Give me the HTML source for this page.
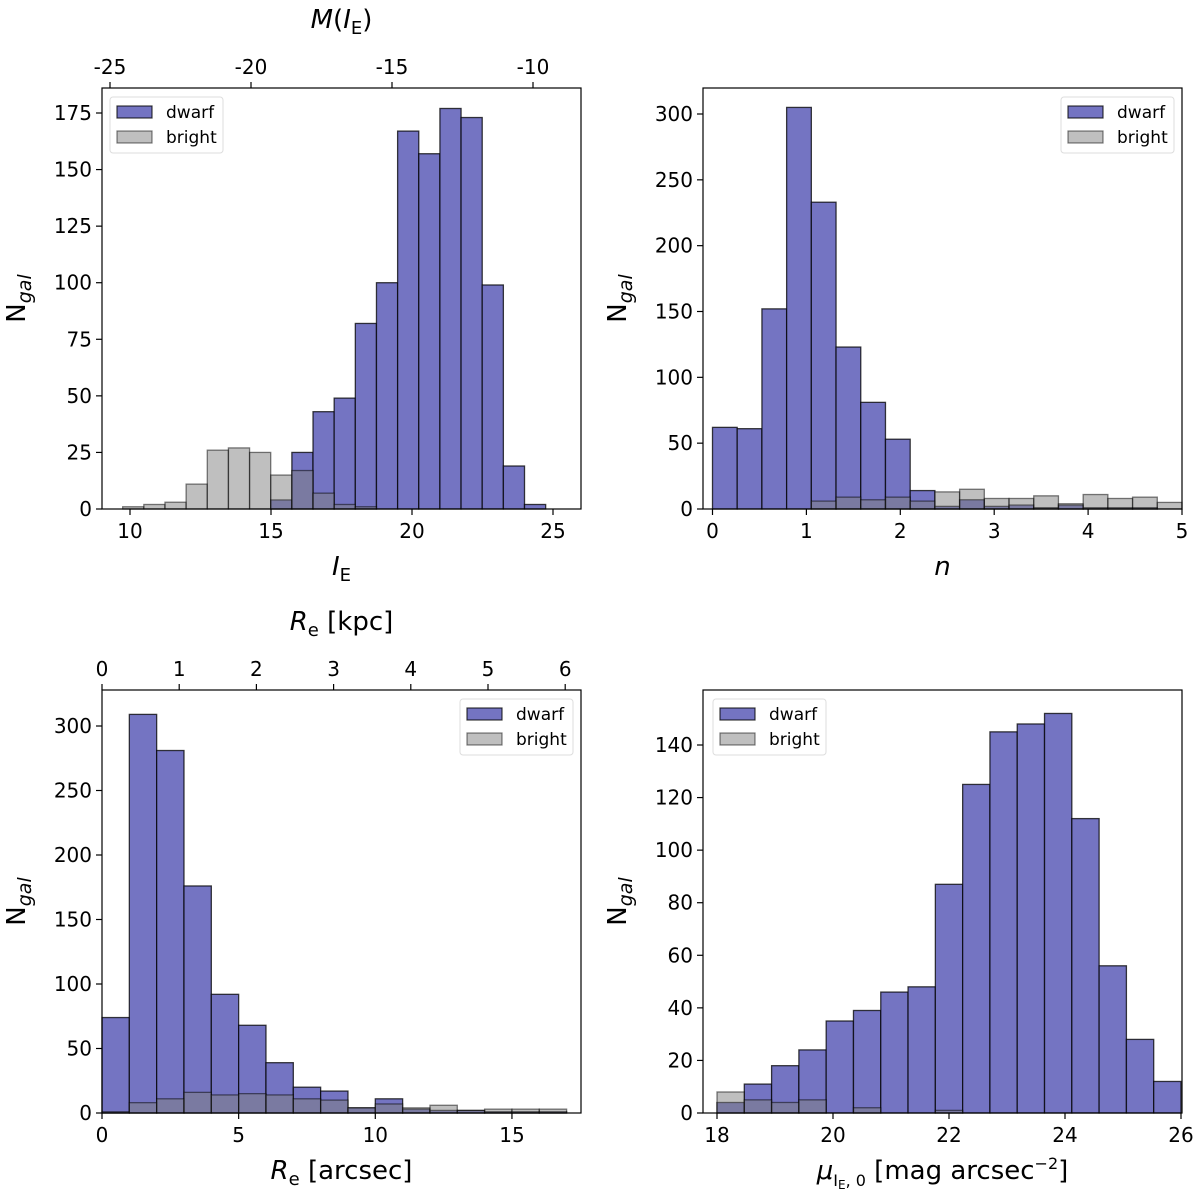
<!DOCTYPE html>
<html><head><meta charset="utf-8"><style>
body{margin:0;background:#fff;}
svg{display:block;font-family:"DejaVu Sans","Liberation Sans",sans-serif;}
</style></head><body>
<svg id="c" width="1200" height="1197" viewBox="0 0 1200 1197" xmlns="http://www.w3.org/2000/svg"></svg>
<script>
// Panel 1: I_E
const ieDwarf = [0,0,0,0,0,0,0,4,25,43,49,82,100,167,157,177,173,99,19,2];
const ieBright = [1,2,3,11,26,27,25,15,17,7,2,1,0,0,0,0,0,0,0,0];
const ieTicks = [10,15,20,25];
const ieTopTicks = [-25,-20,-15,-10];
const ieYTicks = [0,25,50,75,100,125,150,175];
// Panel 2: n
const nDwarf = [62,61,152,305,233,123,81,53,14,2,7,2,3,1,3,1,1,1,0];
const nBright = [0,0,0,0,6,9,7,9,6,13,15,8,8,10,4,11,8,9,5];
const nTicks = [0,1,2,3,4,5];
const nYTicks = [0,50,100,150,200,250,300];
// Panel 3: Re
const reDwarf = [74,309,281,176,92,68,39,20,17,4,11,3,2,2,1,1,1];
const reBright = [1,8,11,16,14,15,14,11,10,4,7,4,6,2,3,3,3];
const reTicks = [0,5,10,15];
const reTopTicks = [0,1,2,3,4,5,6];
const reYTicks = [0,50,100,150,200,250,300];
// Panel 4: mu
const muDwarf = [4,11,18,24,35,39,46,48,87,125,145,148,152,112,56,28,12];
const muBright = [8,5,4,5,0,2,0,0,1,0,0,0,0,0,0,0,0];
const muTicks = [18,20,22,24,26];
const muYTicks = [0,20,40,60,80,100,120,140];

const NS='http://www.w3.org/2000/svg';
const svg=document.getElementById('c');
function mk(tag,attrs,parent,text){const e=document.createElementNS(NS,tag);for(const k in attrs)e.setAttribute(k,attrs[k]);if(text!==undefined)e.textContent=text;(parent||svg).appendChild(e);return e;}

function panel(o){
  const g=mk('g',{});
  
  
  const xs=v=>o.px0+(v-o.x0)*(o.xp);
  const ys=v=>o.B-v*o.yp;
  const nb=o.dwarf.length;
  for(let i=0;i<nb;i++){
    const a=o.b0+i*o.bw,b=a+o.bw;
    if(o.dwarf[i]>0){const r=mk('rect',{x:xs(a),y:ys(o.dwarf[i]),width:xs(b)-xs(a),height:o.B-ys(o.dwarf[i]),fill:'#7474c2',stroke:'rgba(0,0,0,0.75)','stroke-width':1.3},g);
    
    }
  }
  for(let i=0;i<nb;i++){
    const a=o.b0+i*o.bw,b=a+o.bw;
    if(o.bright[i]>0){const r=mk('rect',{x:xs(a),y:ys(o.bright[i]),width:xs(b)-xs(a),height:o.B-ys(o.bright[i]),fill:'rgba(128,128,128,0.5)',stroke:'rgba(0,0,0,0.5)','stroke-width':1.3},g);
    
    }
  }
  mk('rect',{x:o.L,y:o.T,width:o.R-o.L,height:o.B-o.T,fill:'none',stroke:'#000','stroke-width':1.2},g);
  o.yt.forEach(v=>{const y=ys(v);mk('line',{x1:o.L-6,x2:o.L,y1:y,y2:y,stroke:'#000','stroke-width':1.2},g);
    const t=mk('text',{x:o.L-10,y:y+7,'text-anchor':'end','font-size':20},g,String(v));
    
    });
  o.xt.forEach(v=>{const x=xs(v);mk('line',{x1:x,x2:x,y1:o.B,y2:o.B+6,stroke:'#000','stroke-width':1.2},g);
    const t=mk('text',{x:x,y:o.B+29,'text-anchor':'middle','font-size':20},g,String(v));
    
    });
  if(o.top){o.top.ticks.forEach(v=>{const x=o.top.f(v);mk('line',{x1:x,x2:x,y1:o.T-6,y2:o.T,stroke:'#000','stroke-width':1.2},g);
    const t=mk('text',{x:x,y:o.T-14,'text-anchor':'middle','font-size':20},g,String(v));
    
    });}
  const yl=mk('text',{x:0,y:0,transform:`translate(${o.L-77},${(o.T+o.B)/2}) rotate(-90)`,'text-anchor':'middle','font-size':26},g);
  yl.innerHTML='N<tspan font-style="italic" font-size="19" dy="6">gal</tspan>';
  
  
  const xl=mk('text',{x:(o.L+o.R)/2,y:o.B+66,'text-anchor':'middle','font-size':26},g);
  xl.innerHTML=o.xlabel;
  
  
  if(o.toplabel){const tl=mk('text',{x:(o.L+o.R)/2,y:o.T-60,'text-anchor':'middle','font-size':26},g);tl.innerHTML=o.toplabel;
    
    }
  const lg=mk('g',{},g);
  
  
  const lx=o.legX,ly=o.T+9;
  mk('rect',{x:lx,y:ly,width:113,height:56,rx:3,fill:'rgba(255,255,255,0.8)',stroke:'#ddd'},lg);
  mk('rect',{x:lx+7,y:ly+9,width:35,height:12,fill:'#7474c2',stroke:'rgba(0,0,0,0.75)','stroke-width':1.2},lg);
  mk('rect',{x:lx+7,y:ly+34,width:35,height:12,fill:'rgba(128,128,128,0.5)',stroke:'rgba(0,0,0,0.5)','stroke-width':1.2},lg);
  const d=mk('text',{x:lx+56,y:ly+21,'font-size':17},lg,'dwarf');
  
  
  const br=mk('text',{x:lx+56,y:ly+46,'font-size':17},lg,'bright');
  
  
}

panel({name:'ie-histogram',L:102,R:581,T:88,B:509,px0:130,x0:10,xp:28.2,yp:396/175,b0:9.74,bw:0.75,dwarf:ieDwarf,bright:ieBright,
  xt:ieTicks,yt:ieYTicks,xlabel:'<tspan font-style="italic">I</tspan><tspan font-size="18" dy="6">E</tspan>',
  top:{ticks:ieTopTicks,f:v=>110+(v+25)*28.2},toplabel:'<tspan font-style="italic">M</tspan>(<tspan font-style="italic">I</tspan><tspan font-size="18" dy="6">E</tspan><tspan dy="-6">)</tspan>',legX:110});
panel({name:'sersic-n-histogram',L:703,R:1182,T:88,B:509,px0:712.5,x0:0,xp:93.9,yp:395/300,b0:0,bw:5/19,dwarf:nDwarf,bright:nBright,
  xt:nTicks,yt:nYTicks,xlabel:'<tspan font-style="italic">n</tspan>',legX:1061});
panel({name:'re-histogram',L:102,R:581,T:690,B:1113,px0:102,x0:0,xp:27.33,yp:387/300,b0:0,bw:1,dwarf:reDwarf,bright:reBright,
  xt:reTicks,yt:reYTicks,xlabel:'<tspan font-style="italic">R</tspan><tspan font-size="18" dy="6">e</tspan><tspan dy="-6"> [arcsec]</tspan>',
  top:{ticks:reTopTicks,f:v=>102+v*77.2},toplabel:'<tspan font-style="italic">R</tspan><tspan font-size="18" dy="6">e</tspan><tspan dy="-6"> [kpc]</tspan>',legX:460});
panel({name:'mu-histogram',L:703,R:1182,T:690,B:1113,px0:717,x0:18,xp:58,yp:368/140,b0:18,bw:8/17,dwarf:muDwarf,bright:muBright,
  xt:muTicks,yt:muYTicks,xlabel:'<tspan font-style="italic">μ</tspan><tspan font-size="16" dy="7">I</tspan><tspan font-size="12" dy="3">E</tspan><tspan font-size="16" dy="-3">, 0</tspan><tspan dy="-7"> [mag arcsec</tspan><tspan font-size="16" dy="-10">−2</tspan><tspan dy="10">]</tspan>',legX:713});
</script>
</body></html>
